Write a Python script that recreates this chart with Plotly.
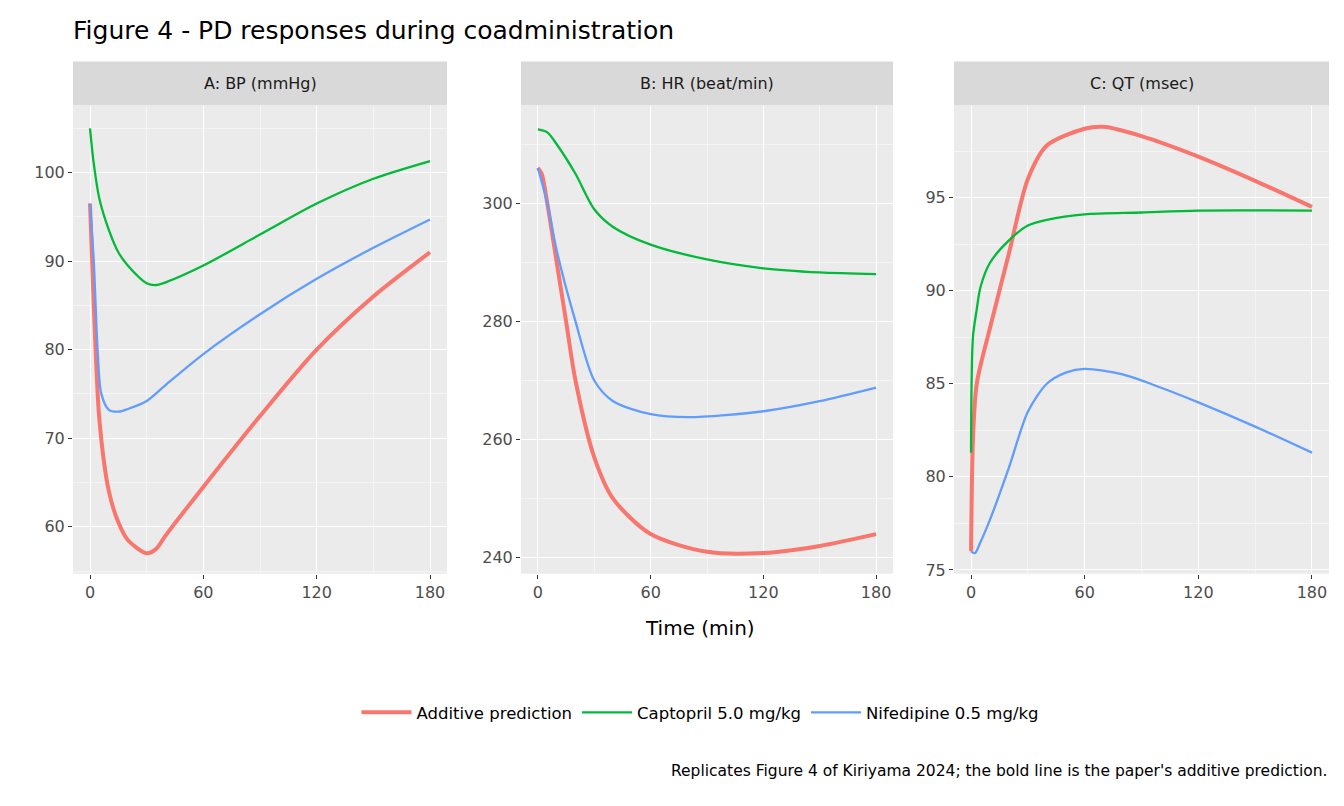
import plotly.graph_objects as go

# facet A: BP (mmHg)
a_add_t = [0, 2, 5, 10, 15, 20, 30, 35, 40, 60, 90, 120, 150, 180]
a_add_v = [96.5, 85, 72, 64, 60.5, 58.5, 57, 57.5, 59, 64.5, 72.5, 80, 86, 91]
a_cap_t = [0, 2, 5, 10, 15, 20, 30, 35, 40, 60, 90, 120, 150, 180]
a_cap_v = [105, 101, 97, 93.5, 91, 89.5, 87.5, 87.3, 87.6, 89.5, 93, 96.5, 99.3, 101.3]
a_nif_t = [0, 2, 4, 6, 10, 15, 20, 30, 40, 60, 90, 120, 150, 180]
a_nif_v = [96.5, 90, 80, 75, 73.2, 73, 73.3, 74.2, 76, 79.5, 84, 88, 91.5, 94.7]

# facet B: HR (beat/min)
b_add_t = [0, 2, 5, 10, 15, 20, 30, 40, 60, 90, 120, 150, 180]
b_add_v = [306, 305, 300, 290, 280, 270, 257, 250, 244, 241, 240.8, 242, 244]
b_cap_t = [0, 5, 10, 20, 30, 40, 60, 90, 120, 150, 180]
b_cap_v = [312.5, 312, 310, 305, 299, 296, 293, 290.5, 289, 288.3, 288]
b_nif_t = [0, 5, 10, 20, 30, 40, 60, 80, 120, 150, 180]
b_nif_v = [306, 300, 292, 280, 270, 266.5, 264.3, 263.8, 264.8, 266.5, 268.8]

# facet C: QT (msec)
c_add_t = [0, 1, 3, 10, 20, 30, 40, 60, 70, 90, 120, 150, 180]
c_add_v = [76, 82, 85, 88, 92, 96, 97.8, 98.7, 98.8, 98.3, 97.2, 95.9, 94.5]
c_cap_t = [0, 1, 3, 5, 10, 20, 30, 40, 60, 90, 120, 180]
c_cap_v = [81.3, 87.5, 89, 90.2, 91.5, 92.7, 93.5, 93.8, 94.1, 94.2, 94.3, 94.3]
c_nif_t = [0, 2, 5, 10, 20, 30, 40, 50, 60, 80, 100, 120, 150, 180]
c_nif_v = [76, 75.9, 76.5, 77.7, 80.5, 83.5, 85, 85.6, 85.8, 85.5, 84.8, 84, 82.7, 81.3]

strip_labels = ["A: BP (mmHg)", "B: HR (beat/min)", "C: QT (msec)"]
series_names = ["Additive prediction", "Captopril 5.0 mg/kg", "Nifedipine 0.5 mg/kg"]
colors = ["#F8766D", "#00BA38", "#619CFF"]
widths = [4, 2.3, 2.3]

# page has an 8px body margin, so work in figure px = reference px - 8
OFF = 8
W, H = 1344 - 2 * OFF, 806 - 2 * OFF
def px(x):
    return (x - OFF) / W
def py(y):
    return 1 - (y - OFF) / H

xdoms = [(73, 447), (521, 893), (954, 1329)]
ytop, ybot = 106, 578
yranges = [(54.7, 107.6), (237.3, 316.6), (74.8, 99.96)]
yticks = [(10, 5), (20, 10), (5, 2.5)]

facets = [
    [(a_add_t, a_add_v), (a_cap_t, a_cap_v), (a_nif_t, a_nif_v)],
    [(b_add_t, b_add_v), (b_cap_t, b_cap_v), (b_nif_t, b_nif_v)],
    [(c_add_t, c_add_v), (c_cap_t, c_cap_v), (c_nif_t, c_nif_v)],
]

fig = go.Figure()
for i, fac in enumerate(facets):
    sfx = "" if i == 0 else str(i + 1)
    for j, (t, v) in enumerate(fac):
        fig.add_trace(go.Scatter(
            x=t, y=v, mode="lines", line=dict(color=colors[j], width=widths[j], shape="spline", smoothing=0.8),
            name=series_names[j], legendgroup=series_names[j], showlegend=(i == 0),
            xaxis="x" + sfx, yaxis="y" + sfx))
    x0, x1 = xdoms[i]
    axis_common = dict(showgrid=True, gridcolor="white", gridwidth=1.3, zeroline=False,
                       ticks="outside", ticklen=4, tickcolor="#333", tickfont=dict(size=16, color="#4d4d4d"),
                       showline=False)
    fig.layout["xaxis" + sfx] = dict(
        domain=[px(x0), px(x1)], anchor="y" + sfx, range=[-9, 189], tickvals=[0, 60, 120, 180],
        minor=dict(dtick=30, tick0=0, showgrid=True, gridcolor="#F5F5F5", gridwidth=0.6), **axis_common)
    dt, mdt = yticks[i]
    fig.layout["yaxis" + sfx] = dict(
        domain=[py(ybot), py(ytop)], anchor="x" + sfx, range=list(yranges[i]), dtick=dt, tick0=0,
        minor=dict(dtick=mdt, tick0=0, showgrid=True, gridcolor="#F5F5F5", gridwidth=0.6), **axis_common)
    fig.add_shape(type="rect", xref="paper", yref="paper", x0=px(x0), x1=px(x1),
                  y0=py(ybot), y1=py(ytop), fillcolor="#EBEBEB", line_width=0, layer="below")
    fig.add_shape(type="rect", xref="paper", yref="paper", x0=px(x0), x1=px(x1),
                  y0=py(ytop), y1=py(62), fillcolor="#D9D9D9", line_width=0)
    fig.add_annotation(x=px((x0 + x1) / 2), y=py(84), xref="paper", yref="paper", text=strip_labels[i],
                       xanchor="center", yanchor="middle", showarrow=False, font=dict(size=16, color="#1a1a1a"))

fig.add_annotation(x=px(700), y=py(633), xref="paper", yref="paper", text="Time (min)",
                   xanchor="center", yanchor="middle", showarrow=False, font=dict(size=20, color="black"))
fig.add_annotation(x=px(1329), y=py(777), xref="paper", yref="paper", xanchor="right", yanchor="middle",
                   text="Replicates Figure 4 of Kiriyama 2024; the bold line is the paper's additive prediction.",
                   showarrow=False, font=dict(size=15.5, color="black"))

fig.update_layout(
    width=W, height=H, margin=dict(l=0, r=0, t=0, b=0),
    paper_bgcolor="white", plot_bgcolor="rgba(0,0,0,0)",
    font=dict(family="DejaVu Sans"),
    title=dict(text="Figure 4 - PD responses during coadministration", x=px(73), xanchor="left",
               y=py(30), yanchor="middle", font=dict(size=25, color="black")),
    legend=dict(orientation="h", x=px(700), xanchor="center", y=py(718), yanchor="middle",
                font=dict(size=16.5, color="black"), itemwidth=50, bgcolor="rgba(0,0,0,0)"),
)

fig.write_html("out.html")
